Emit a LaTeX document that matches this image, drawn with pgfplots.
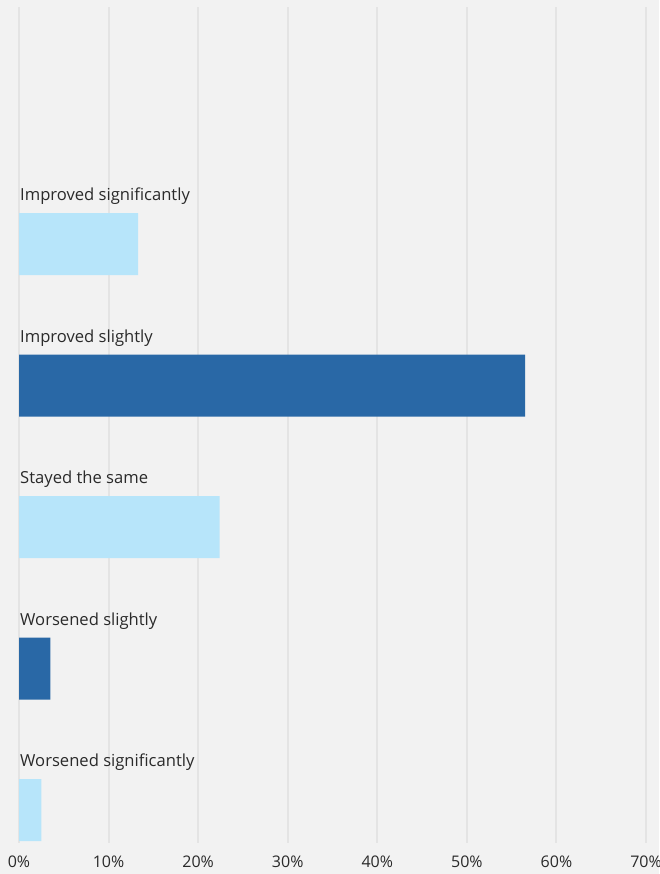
\documentclass[border=0pt]{standalone}
\usepackage{fontspec}
\setmainfont{Open Sans}
\usepackage{pgfplots}
\pgfplotsset{compat=1.18}
\definecolor{bg}{HTML}{F2F2F2}
\definecolor{gridc}{HTML}{E4E4E4}
\definecolor{lightb}{HTML}{B7E5FA}
\definecolor{darkb}{HTML}{2968A6}
\definecolor{txt}{HTML}{2A2A2A}

\begin{document}
\begin{tikzpicture}[x=1pt,y=1pt]
\fill[bg] (0,0) rectangle (659,874);
\useasboundingbox (0,0) rectangle (659,874);
\begin{axis}[
  at={(19pt,31pt)}, anchor=south west,
  scale only axis, width=627pt, height=836pt,
  xmin=0, xmax=70, ymin=0.767, ymax=6.675,
  xtick={0,10,...,70},
  xticklabel={\pgfmathprintnumber{\tick}\%},
  ytick=\empty,
  axis line style={draw=none},
  major tick length=0pt,
  xmajorgrids, grid style={gridc, line width=2pt},
  xticklabel style={font=\fontsize{16}{19}\selectfont, text=txt, anchor=base, yshift=-24.3pt},
  /pgf/number format/assume math mode=true,
  xbar, bar width=62pt, bar shift=0pt,
  clip=false,
]
% light bars
\addplot[fill=lightb, draw=none] coordinates {(13.3,5) (22.4,3) (2.5,1)};
% dark bars
\addplot[fill=darkb, draw=none] coordinates {(56.5,4) (3.5,2)};

\begin{scope}[every node/.style={anchor=base west, inner sep=0pt, xshift=1pt, text=txt, font=\fontsize{16.6}{19}\selectfont}]
\node at (axis cs:0,5.307) {Improved significantly};
\node at (axis cs:0,4.307) {Improved slightly};
\node at (axis cs:0,3.307) {Stayed the same};
\node at (axis cs:0,2.307) {Worsened slightly};
\node at (axis cs:0,1.307) {Worsened significantly};
\end{scope}
\end{axis}
\end{tikzpicture}
\end{document}
